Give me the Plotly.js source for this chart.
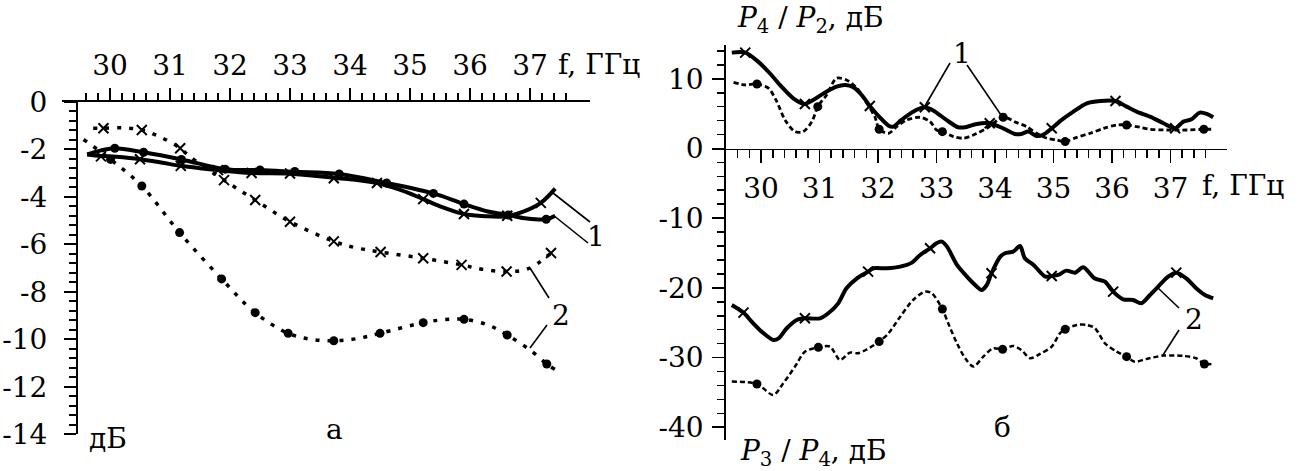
<!DOCTYPE html>
<html><head><meta charset="utf-8">
<script src="https://cdn.plot.ly/plotly-3.0.1.min.js"></script>
<style>html,body{margin:0;padding:0;background:#fff;} #chart{width:1300px;height:471px;}</style>
</head><body><div id="chart"></div>
<script>
// ---------- Panel а : transmission vs frequency (dB) ----------
// curve 1 (solid, × markers)
const a1x_f = [29.62, 29.85, 30.1, 30.5, 30.85, 31.18, 31.5, 31.8, 32.36, 33.0, 33.73, 34.45, 34.85, 35.22, 35.55, 35.9, 36.25, 36.62, 36.9, 37.18, 37.42];
const a1x_v = [-2.22, -2.28, -2.32, -2.42, -2.56, -2.70, -2.80, -2.88, -3.0, -3.03, -3.2, -3.42, -3.72, -4.1, -4.45, -4.73, -4.82, -4.82, -4.62, -4.26, -3.66];
const a1x_mf = [29.85, 30.5, 31.18, 31.8, 32.36, 33.0, 33.73, 34.45, 35.22, 35.9, 36.62, 37.18];
const a1x_mv = [-2.3, -2.42, -2.7, -2.88, -3.0, -3.02, -3.22, -3.42, -4.1, -4.73, -4.8, -4.26];
// curve 1 (solid, ● markers)
const a1d_f = [29.62, 29.85, 30.08, 30.56, 31.19, 31.92, 32.5, 33.08, 33.82, 34.61, 35.39, 35.9, 36.3, 36.64, 36.95, 37.27, 37.42];
const a1d_v = [-2.22, -2.05, -1.96, -2.13, -2.43, -2.84, -2.88, -2.95, -3.04, -3.42, -3.86, -4.31, -4.62, -4.77, -4.92, -4.95, -4.8];
const a1d_mf = [30.08, 30.56, 31.19, 31.92, 32.5, 33.08, 33.82, 34.61, 35.39, 35.9, 36.64, 37.27];
const a1d_mv = [-1.96, -2.13, -2.43, -2.84, -2.87, -2.94, -3.04, -3.42, -3.86, -4.31, -4.77, -4.95];
// curve 2 (dotted, × markers)
const a2x_f = [29.72, 29.89, 30.2, 30.53, 30.85, 31.17, 31.33, 31.9, 32.42, 33.0, 33.73, 34.1, 34.51, 35.22, 35.86, 36.2, 36.61, 36.97, 37.35];
const a2x_v = [-1.12, -1.12, -1.1, -1.19, -1.5, -1.96, -2.31, -3.30, -4.14, -5.05, -5.88, -6.15, -6.33, -6.59, -6.87, -7.05, -7.15, -7.03, -6.37];
const a2x_mf = [29.89, 30.53, 31.17, 31.9, 32.42, 33.0, 33.73, 34.51, 35.22, 35.86, 36.61, 37.35];
const a2x_mv = [-1.12, -1.19, -1.96, -3.30, -4.14, -5.05, -5.88, -6.33, -6.59, -6.87, -7.15, -6.37];
// curve 2 (dotted, ● markers)
const a2d_f = [29.56, 30.01, 30.53, 31.16, 31.86, 32.42, 32.97, 33.35, 33.73, 34.1, 34.5, 35.22, 35.55, 35.9, 36.3, 36.62, 37.0, 37.28, 37.42];
const a2d_v = [-1.59, -2.43, -3.55, -5.51, -7.46, -8.88, -9.75, -10.0, -10.06, -9.98, -9.75, -9.30, -9.18, -9.16, -9.4, -9.82, -10.45, -11.04, -11.27];
const a2d_mf = [30.01, 30.53, 31.16, 31.86, 32.42, 32.97, 33.73, 34.5, 35.22, 35.9, 36.62, 37.28];
const a2d_mv = [-2.43, -3.55, -5.51, -7.46, -8.88, -9.75, -10.06, -9.75, -9.30, -9.16, -9.82, -11.04];

// ---------- Panel б : P4/P2 (curves 1) and P3/P4 (curves 2), dB ----------
const b1s_f = [29.50,29.73,29.95,30.15,30.35,30.55,30.75,30.89,31.07,31.29,31.44,31.58,31.72,31.86,32.03,32.18,32.26,32.4,32.6,32.8,32.95,33.17,33.37,33.49,33.69,33.91,34.14,34.34,34.45,34.57,34.71,34.82,34.97,35.14,35.34,35.57,35.8,36.06,36.25,36.42,36.65,36.88,37.08,37.22,37.36,37.5,37.62,37.73];
const b1s_v = [13.75,13.75,12.46,10.79,8.87,7.2,6.39,6.95,7.9,8.87,9.11,8.77,7.67,6.1,4.47,3.27,3.13,4.09,5.28,5.9,5.42,4.09,3.04,3.04,3.52,3.61,2.89,2.08,2.08,2.42,1.79,1.94,2.89,4.09,5.28,6.48,6.81,6.81,6.0,5.28,4.57,3.61,2.89,3.85,4.18,5.14,4.95,4.47];
const b1s_mf = [29.73, 30.75, 31.86, 32.8, 33.91, 34.97, 36.06, 37.08];
const b1s_mv = [13.75, 6.39, 6.1, 5.9, 3.61, 2.89, 6.81, 2.89];

const b1d_f = [29.53,29.73,29.93,30.13,30.27,30.41,30.58,30.72,30.87,30.97,31.12,31.29,31.46,31.64,31.81,31.95,32.02,32.18,32.32,32.49,32.72,32.89,33.0,33.10,33.29,33.46,33.63,33.86,34.14,34.37,34.54,34.71,34.89,35.05,35.20,35.40,35.63,35.86,36.08,36.25,36.48,36.65,36.94,37.28,37.57,37.73];
const b1d_v = [9.49,9.11,9.25,8.63,6.72,4.09,2.41,2.41,3.85,6.0,7.67,10.07,9.83,8.63,6.48,4.47,2.75,2.18,3.13,4.09,4.47,3.85,2.65,2.41,1.7,1.46,1.94,2.89,4.47,3.71,3.13,2.18,1.46,1.22,0.98,1.60,2.18,2.89,3.37,3.37,3.04,2.75,2.65,2.65,2.75,2.75];
const b1d_mf = [29.93, 30.97, 32.02, 33.10, 34.14, 35.20, 36.25, 37.57];
const b1d_mv = [9.25, 6.0, 2.75, 2.41, 4.47, 0.98, 3.37, 2.75];

const b2s_f = [29.50,29.70,29.84,30.01,30.21,30.30,30.44,30.61,30.75,31.01,31.15,31.32,31.46,31.64,31.83,31.92,32.15,32.38,32.58,32.72,32.89,33.0,33.09,33.18,33.35,33.52,33.66,33.77,33.86,33.94,34.09,34.17,34.31,34.43,34.51,34.66,34.86,34.97,35.08,35.22,35.37,35.51,35.7,35.88,36.02,36.19,36.36,36.5,36.65,36.79,36.96,37.1,37.27,37.44,37.59,37.73];
const b2s_v = [-22.45,-23.55,-24.85,-26.28,-27.47,-27.24,-25.8,-24.61,-24.37,-24.37,-23.65,-22.22,-20.07,-18.63,-17.67,-17.19,-17.19,-16.95,-16.38,-15.28,-14.32,-13.6,-13.37,-14.09,-16.72,-18.39,-19.59,-20.3,-19.59,-17.91,-15.52,-15.04,-14.8,-13.99,-15.76,-16.72,-18.39,-18.3,-18.15,-17.53,-17.82,-17.05,-18.63,-19.11,-20.54,-21.64,-21.74,-22.22,-21.02,-19.83,-18.39,-17.82,-18.63,-20.06,-21.02,-21.5];
const b2s_mf = [29.70, 30.75, 31.83, 32.89, 33.94, 34.97, 36.02, 37.1];
const b2s_mv = [-23.55, -24.37, -17.67, -14.32, -17.91, -18.3, -20.54, -17.82];

const b2d_f = [29.50,29.93,30.21,30.38,30.58,30.75,30.98,31.18,31.35,31.52,31.66,31.81,32.02,32.18,32.38,32.6,32.8,32.92,33.10,33.2,33.35,33.49,33.63,33.80,33.97,34.13,34.31,34.45,34.6,34.77,34.97,35.11,35.20,35.40,35.57,35.71,35.88,36.08,36.25,36.39,36.59,36.88,37.22,37.44,37.58,37.70];
const b2d_v = [-33.45,-33.79,-35.37,-33.69,-31.3,-29.15,-28.53,-28.43,-30.35,-29.29,-29.39,-28.82,-27.71,-26.52,-24.13,-21.74,-20.54,-20.78,-23.03,-25.08,-27.95,-30.1,-31.3,-29.87,-28.67,-28.82,-28.33,-28.91,-30.1,-29.48,-28.43,-26.52,-25.95,-25.32,-25.32,-25.8,-27.95,-29.15,-29.87,-30.59,-30.2,-29.72,-29.77,-30.1,-30.92,-30.92];
const b2d_mf = [29.93, 30.98, 32.02, 33.10, 34.13, 35.20, 36.25, 37.58];
const b2d_mv = [-33.79, -28.53, -27.71, -23.03, -28.82, -25.95, -29.87, -30.92];

// ---------- tick labels ----------
const freqTicks = [30, 31, 32, 33, 34, 35, 36, 37];
const freqLabels = ['30', '31', '32', '33', '34', '35', '36', '37'];
const aTicks = [0, -2, -4, -6, -8, -10, -12, -14];
const aLabels = ['0', '-2', '-4', '-6', '-8', '-10', '-12', '-14'];
const bTicks = [10, 0, -10, -20, -30, -40];
const bLabels = ['10', '0', '-10', '-20', '-30', '-40'];

// ---------- helpers ----------
const W = 1300, H = 471;
const FONT = 'DejaVu Serif';
const FSIZE = 28;
const px = x => x / W;
const py = y => 1 - y / H;
function steps(a, b, s, skip) {
  const out = [];
  for (let k = 0; a + k * s <= b + 1e-9; k++) {
    const t = Math.round((a + k * s) * 1000) / 1000;
    if (!skip.some(m => Math.abs(m - t) < 1e-6)) out.push(t);
  }
  return out;
}
function lineTr(f, v, xa, ya, width, dash, smooth) {
  return {type: 'scatter', mode: 'lines', x: f, y: v, xaxis: xa, yaxis: ya,
    line: {color: 'black', width: width, dash: dash, shape: 'spline', smoothing: smooth},
    hoverinfo: 'skip', showlegend: false};
}
function markTr(f, v, xa, ya, kind, size) {
  const m = kind === 'x'
    ? {symbol: 'x-thin', size: size, color: 'black', line: {color: 'black', width: 2}}
    : {symbol: 'circle', size: size, color: 'black', line: {width: 0}};
  return {type: 'scatter', mode: 'markers', x: f, y: v, xaxis: xa, yaxis: ya, marker: m,
    hoverinfo: 'skip', showlegend: false};
}

const traces = [
  lineTr(a1x_f, a1x_v, 'x', 'y', 4, 'solid', 1), markTr(a1x_mf, a1x_mv, 'x', 'y', 'x', 10),
  lineTr(a1d_f, a1d_v, 'x', 'y', 4, 'solid', 1), markTr(a1d_mf, a1d_mv, 'x', 'y', 'o', 9),
  lineTr(a2x_f, a2x_v, 'x', 'y', 3.5, '4px,8px', 1), markTr(a2x_mf, a2x_mv, 'x', 'y', 'x', 10),
  lineTr(a2d_f, a2d_v, 'x', 'y', 3.5, '4px,8px', 1), markTr(a2d_mf, a2d_mv, 'x', 'y', 'o', 9),
  lineTr(b1s_f, b1s_v, 'x2', 'y2', 4, 'solid', 0.8), markTr(b1s_mf, b1s_mv, 'x2', 'y2', 'x', 10),
  lineTr(b1d_f, b1d_v, 'x2', 'y2', 2.8, '5px,3px', 0.8), markTr(b1d_mf, b1d_mv, 'x2', 'y2', 'o', 9),
  lineTr(b2s_f, b2s_v, 'x2', 'y2', 4, 'solid', 0.8), markTr(b2s_mf, b2s_mv, 'x2', 'y2', 'x', 10),
  lineTr(b2d_f, b2d_v, 'x2', 'y2', 2.5, '5px,3px', 0.8), markTr(b2d_mf, b2d_mv, 'x2', 'y2', 'o', 9)
];

const tickFont = {family: FONT, size: FSIZE, color: 'black'};
const axBase = {showline: true, linecolor: 'black', linewidth: 1.6, showgrid: false, zeroline: false,
  ticks: 'outside', tickcolor: 'black', tickwidth: 1.6, ticklen: 12, tickfont: tickFont,
  tickmode: 'array', automargin: false, fixedrange: true};

const layout = {
  width: W, height: H, margin: {l: 0, r: 0, t: 0, b: 0},
  paper_bgcolor: 'white', plot_bgcolor: 'rgba(0,0,0,0)', showlegend: false,
  font: {family: FONT, color: 'black'},
  xaxis: Object.assign({}, axBase, {
    domain: [px(62), px(590)], range: [29.2, 38.0], side: 'top', anchor: 'y',
    tickvals: freqTicks, ticktext: freqLabels, ticklabelstandoff: 2,
    minor: {tickmode: 'array', tickvals: steps(29.6, 37.6, 0.2, freqTicks), ticks: 'outside', ticklen: 7, tickwidth: 1.6, tickcolor: 'black'}
  }),
  yaxis: Object.assign({}, axBase, {
    domain: [py(434.3), py(101.7)], range: [-14, 0], anchor: 'free', position: px(76),
    tickvals: aTicks, ticktext: aLabels, ticklabelstandoff: 11,
    minor: {tickmode: 'array', tickvals: steps(-14, 0, 0.4, aTicks), ticks: 'outside', ticklen: 7, tickwidth: 1.6, tickcolor: 'black'}
  }),
  xaxis2: Object.assign({}, axBase, {
    domain: [px(711.9), px(1227.2)], range: [29.16, 37.97], side: 'bottom', anchor: 'free', position: py(148.5),
    tickvals: freqTicks, ticktext: freqLabels, ticklabelstandoff: 1, ticklen: 13,
    minor: {tickmode: 'array', tickvals: steps(29.6, 37.6, 0.2, freqTicks), ticks: 'outside', ticklen: 8, tickwidth: 1.6, tickcolor: 'black'}
  }),
  yaxis2: Object.assign({}, axBase, {
    domain: [py(439.8), py(45.3)], range: [-41.8, 14.8], anchor: 'free', position: px(724.3),
    tickvals: bTicks, ticktext: bLabels, ticklabelstandoff: 3,
    minor: {tickmode: 'array', tickvals: steps(-40, 14, 2, bTicks), ticks: 'outside', ticklen: 7, tickwidth: 1.6, tickcolor: 'black'}
  }),
  annotations: [],
  shapes: []
};

function txt(x, y, text, xanchor) {
  layout.annotations.push({xref: 'paper', yref: 'paper', x: px(x), y: py(y), text: text,
    showarrow: false, xanchor: xanchor || 'center', yanchor: 'middle',
    font: {family: FONT, size: FSIZE, color: 'black'}});
}
function lead(x0, y0, x1, y1) {
  layout.shapes.push({type: 'line', xref: 'paper', yref: 'paper', x0: px(x0), y0: py(y0), x1: px(x1), y1: py(y1),
    line: {color: 'black', width: 1.6}});
}
// panel а labels
txt(556, 65, 'f, ГГц', 'left');
txt(108, 438, 'дБ');
txt(335, 429, 'а');
txt(596, 236, '1');
txt(561, 315, '2');
lead(553, 193, 590, 222); lead(553, 215, 588, 243);
lead(530, 268, 549, 298); lead(547, 325, 530, 348);
// panel б labels
txt(735, 20, '<i>P</i><sub>4</sub> / <i>P</i><sub>2</sub>, дБ', 'left');
txt(738, 452, '<i>P</i><sub>3</sub> / <i>P</i><sub>4</sub>, дБ', 'left');
txt(1200, 185, 'f, ГГц', 'left');
txt(1002, 427, 'б');
txt(962, 54, '1');
txt(1194, 319, '2');
lead(950, 63, 925, 106); lead(967, 65, 1001, 115);
lead(1179, 308, 1158, 288); lead(1179, 330, 1163, 355);

Plotly.newPlot('chart', traces, layout, {staticPlot: true, displayModeBar: false});
</script></body></html>
